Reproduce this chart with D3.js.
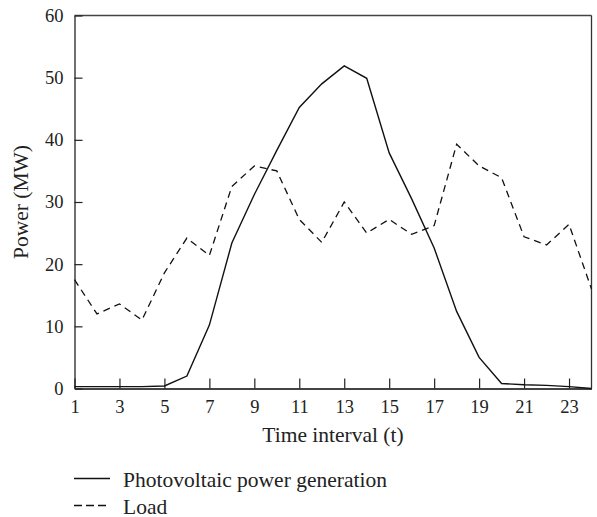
<!DOCTYPE html>
<html>
<head>
<meta charset="utf-8">
<script src="https://cdn.jsdelivr.net/npm/d3@7"></script>
<style>
  html, body { margin: 0; padding: 0; background: #fff; }
  svg text { font-family: "Liberation Serif", "DejaVu Serif", serif; fill: #222; }
</style>
</head>
<body>
<svg id="chart" width="597" height="517"></svg>
<script>
const timeIntervals = d3.range(1, 25);
const pvGeneration = [0.3, 0.3, 0.3, 0.3, 0.4, 2.0, 10.2, 23.4, 31.2, 38.3, 45.2, 49.0, 51.9, 49.9, 37.9, 30.5, 22.6, 12.4, 5.0, 0.8, 0.6, 0.5, 0.3, 0.0];
const loadValues = [17.5, 12.0, 13.6, 11.0, 18.6, 24.2, 21.4, 32.5, 35.8, 35.0, 27.2, 23.5, 30.0, 25.0, 27.2, 24.8, 26.2, 39.3, 35.8, 33.9, 24.4, 23.1, 26.4, 16.0];
const xTicks = [1, 3, 5, 7, 9, 11, 13, 15, 17, 19, 21, 23];
const yTicks = [0, 10, 20, 30, 40, 50, 60];
const seriesNames = ["Photovoltaic power generation", "Load"];

const svg = d3.select("#chart");
const L = 74.5, R = 591.5, T = 15.5, B = 388.5;

const x = d3.scaleLinear().domain([1, 24]).range([L, R]);
const y = d3.scaleLinear().domain([0, 60]).range([B, T]);

// frame top and right
svg.append("line").attr("x1", L).attr("x2", R).attr("y1", T).attr("y2", T)
  .attr("stroke", "#444").attr("stroke-width", 1.6);
svg.append("line").attr("x1", R).attr("x2", R).attr("y1", T).attr("y2", B)
  .attr("stroke", "#333").attr("stroke-width", 1.3);

// x axis
const xAxis = svg.append("g").attr("transform", `translate(0,${B})`)
  .call(d3.axisBottom(x).tickValues(xTicks).tickSizeInner(-10).tickSizeOuter(0).tickPadding(11.5));
xAxis.select(".domain").attr("stroke", "#444").attr("stroke-width", 1.8);
xAxis.selectAll(".tick line").attr("stroke", "#222").attr("stroke-width", 1.2);
xAxis.selectAll(".tick text").attr("font-size", 18.5).attr("font-family", "Liberation Serif").attr("fill", "#222");

// y axis
const yAxis = svg.append("g").attr("transform", `translate(${L},0)`)
  .call(d3.axisLeft(y).tickValues(yTicks).tickSizeInner(-8).tickSizeOuter(0).tickPadding(11));
yAxis.select(".domain").attr("stroke", "#222").attr("stroke-width", 1.3);
yAxis.selectAll(".tick line").attr("stroke", "#222").attr("stroke-width", 1.2);
yAxis.selectAll(".tick text").attr("font-size", 18.5).attr("font-family", "Liberation Serif").attr("fill", "#222");

// axis titles
svg.append("text").attr("x", (L + R) / 2).attr("y", 442).attr("text-anchor", "middle")
  .attr("font-size", 21.5).text("Time interval (t)");
svg.append("text").attr("transform", `translate(28,${(T + B) / 2}) rotate(-90)`)
  .attr("text-anchor", "middle").attr("font-size", 21.5).text("Power (MW)");

const line = d3.line().x(d => x(d[0])).y(d => y(d[1]));

svg.append("path").datum(timeIntervals.map((t, i) => [t, pvGeneration[i]]))
  .attr("d", line).attr("fill", "none").attr("stroke", "#111").attr("stroke-width", 1.4);
svg.append("path").datum(timeIntervals.map((t, i) => [t, loadValues[i]]))
  .attr("d", line).attr("fill", "none").attr("stroke", "#111").attr("stroke-width", 1.3)
  .attr("stroke-dasharray", "7,5");

// legend
const legend = svg.append("g");
const ly = [478.5, 505.5];
seriesNames.forEach((name, i) => {
  legend.append("line").attr("x1", 74).attr("x2", 110).attr("y1", ly[i]).attr("y2", ly[i])
    .attr("stroke", "#111").attr("stroke-width", 1.3)
    .attr("stroke-dasharray", i === 1 ? "8,4" : null);
  legend.append("text").attr("x", 123).attr("y", ly[i] + 8).attr("font-size", 21.5).text(name);
});
</script>
</body>
</html>
